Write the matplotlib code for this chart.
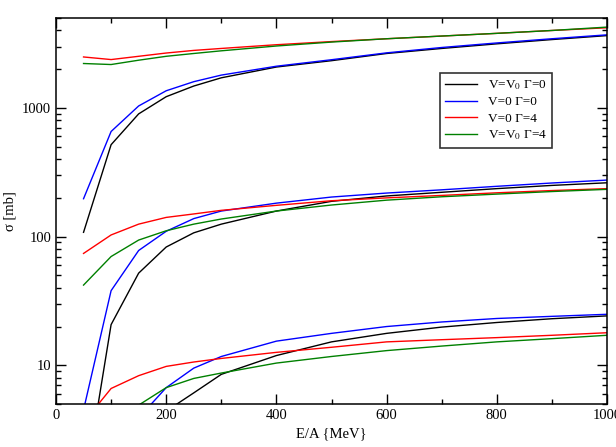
import matplotlib
matplotlib.use("Agg")
import matplotlib.pyplot as plt
from matplotlib.ticker import MultipleLocator, NullFormatter

plt.rcParams['font.family'] = ['Liberation Serif', 'DejaVu Serif']
plt.rcParams['mathtext.fontset'] = 'stix'

energy = [50, 100, 150, 200, 250, 300, 400, 500, 600, 700, 800, 900, 1000]

# upper group
black_hi = [108, 518, 899, 1223, 1480, 1715, 2080, 2330, 2650, 2900, 3150, 3400, 3650]
blue_hi = [197, 656, 1036, 1360, 1600, 1800, 2110, 2370, 2680, 2950, 3200, 3450, 3700]
red_hi = [2490, 2377, 2520, 2672, 2800, 2900, 3100, 3280, 3450, 3620, 3800, 4000, 4200]
green_hi = [2215, 2175, 2350, 2520, 2650, 2780, 3030, 3250, 3450, 3620, 3800, 4000, 4250]

# middle group
black_mid = [1.0, 20.7, 52, 83, 107, 125, 158, 188, 207, 221, 236, 250, 262]
blue_mid = [4.5, 38, 78, 110, 138, 158, 182, 203, 218, 231, 246, 261, 275]
red_mid = [74, 103, 125, 141, 150, 160, 175, 190, 200, 209, 219, 228, 236]
green_mid = [42, 70, 94, 111, 125, 137, 158, 176, 192, 204, 214, 224, 233]

# lower group
black_lo = [0.5, 1.5, 3.0, 4.4, 6.1, 8.5, 11.9, 15.2, 17.7, 19.8, 21.5, 23.0, 24.2]
blue_lo = [1.0, 2.0, 3.9, 6.7, 9.5, 11.7, 15.4, 17.7, 20.0, 21.7, 23.1, 24.0, 24.9]
red_lo = [3.6, 6.6, 8.3, 9.8, 10.6, 11.3, 12.6, 13.8, 15.2, 15.8, 16.4, 17.1, 17.9]
green_lo = [2.0, 3.5, 4.9, 6.7, 7.9, 8.7, 10.4, 11.7, 13.0, 14.1, 15.2, 16.1, 17.1]

labels = ['V=V$_0$ Γ=0', 'V=0 Γ=0', 'V=0 Γ=4', 'V=V$_0$ Γ=4']
colors = ['black', 'blue', 'red', 'green']

fig = plt.figure(figsize=(6.16, 4.47), dpi=100)
ax = fig.add_axes([0.0909, 0.0962, 0.8945, 0.8635])

groups = [
    [black_hi, blue_hi, red_hi, green_hi],
    [black_mid, blue_mid, red_mid, green_mid],
    [black_lo, blue_lo, red_lo, green_lo],
]
for gi, group in enumerate(groups):
    for vals, c, lab in zip(group, colors, labels):
        ax.plot(energy, vals, color=c, lw=1.0, label=lab if gi == 0 else None)

ax.set_yscale('log')
ax.set_xlim(0, 1000)
ax.set_ylim(5, 5000)
ax.xaxis.set_major_locator(MultipleLocator(200))
ax.xaxis.set_minor_locator(MultipleLocator(100))
ax.set_yticks([10, 100, 1000])
ax.set_yticklabels(['10', '100', '1000'])
minors = [m * 10 ** e for e in range(0, 4) for m in range(2, 10) if 5 <= m * 10 ** e <= 5000]
ax.set_yticks(minors, minor=True)
ax.yaxis.set_minor_formatter(NullFormatter())

ax.tick_params(which='both', direction='in', top=True, right=True, labelsize=10.5)
ax.tick_params(which='major', length=7, width=1)
ax.tick_params(which='minor', length=3.5, width=1)
for s in ax.spines.values():
    s.set_linewidth(1.1)

ax.set_xlabel('E/A {MeV}', fontsize=10.5)
ax.set_ylabel('σ [mb]', fontsize=10.5)

leg = ax.legend(loc='upper left', bbox_to_anchor=(0.697, 0.857), fontsize=9.5,
                frameon=True, fancybox=False, edgecolor='black',
                handlelength=2.4, labelspacing=0.3, borderpad=0.4, borderaxespad=0)
leg.get_frame().set_linewidth(1.2)

fig.savefig('out.png', dpi=100)
